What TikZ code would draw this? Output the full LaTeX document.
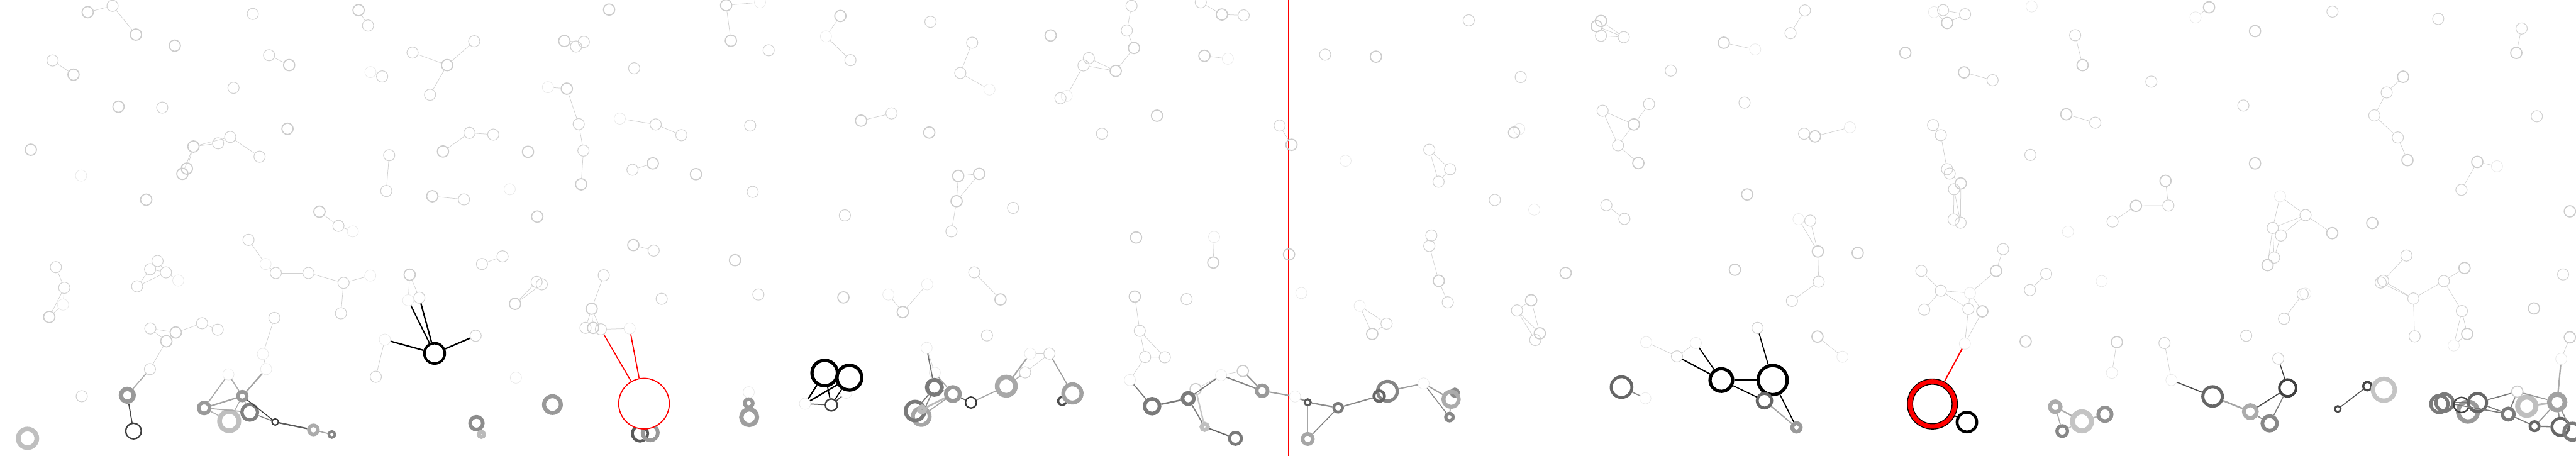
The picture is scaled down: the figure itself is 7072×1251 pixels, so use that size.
\documentclass[tikz,border=0pt]{standalone}
\usepackage{tikz}
\newdimen\pxu
\pxu=0.01cm

\begin{document}
\begin{tikzpicture}[x=0.01cm,y=-0.01cm,
  lt/.style={circle,inner sep=0pt,minimum size=0.31cm,draw=black!20,line width=0.03cm},
  lm/.style={circle,inner sep=0pt,minimum size=0.31cm,draw=black!18,line width=0.019cm},
  lf/.style={circle,inner sep=0pt,minimum size=0.31cm,draw=black!9,line width=0.013cm},
  le/.style={draw=black!18,line width=0.013cm},
  ring/.style n args={3}{circle,inner sep=0pt,draw=#1,line width=#2\pxu,minimum size=#3\pxu}]
  \path[use as bounding box,fill=white] (0,0) rectangle (7072,1251);

  % divider
  \coordinate (vt) at (3536,0);
  \coordinate (vb) at (3536,1251);
  \draw[red,line width=0.018cm] (vt) -- (vb);

  % pale particles
  \foreach \n/\x/\y in {a1/240.7/33.5, a3/373.2/95, a4/479.8/125.3, a7/201.8/205, a9/793.8/178.8, a11/325.3/292.9, a13/789.3/353.5, a14/84.6/411, a16/531.1/402.2, a20/513.1/462.8, a21/500.7/477.2, a22/401.4/548.2, a23/877/581,
    b1/984.4/27.9, b4/1227.4/178.8, b9/1672.2/26.3, b10/1549.3/112.5, b15/1556/243.4, b18/1595.5/505.9, b23/1216.1/415.8, b24/1449.5/416.6, b27/1186.8/538.7, b30/1474.9/594.5, b31/1738.7/672.7, b38/1124.7/754.1, b41/1414/834, b45/1624.3/847.5,
    c1/1993.5/14.4, c3/2006.5/111.7, c5/2307/43.9, c13/2363.9/331.2, c15/2551.1/363.9, c16/1792.2/448.5, c17/1910.6/478, c20/2630.6/482.8, c21/2626.1/552.2, c24/2017.8/714.2, c27/2315.4/816.4,
    d3/3113.2/131.7, d4/3063/194.7, d9/2884.3/97.4, d13/3354.5/39.9, d15/3306.6/153.2, d17/3176.3/317.6, d20/2688.1/477.2, d22/3118.8/652, d24/3330.8/720.6, d26/2746.7/822, d27/3115.4/814,
    e1/3545.6/397.4, e2/3538.8/698.3, e5/3777.3/155.6, e7/4383.4/71.8, e8/4395.2/57.5, e15/4156.7/363.9, e22/3949.8/770.9, e25/4298.2/749.3, e26/4203.5/824.3,
    f2/4732.3/117.3, f7/5230.7/145.2, f9/4485.4/341.5, f11/4497.8/447.7, f14/4982.7/374.3, f16/4796.6/533.9, f20/4990.6/690.3, f23/5100/694.3, f24/4762.8/740.5,
    g4/5345.7/63, g6/6064.6/20, g8/6190.8/85.4, g10/5717.3/178.8, g11/5392/198.7, g14/5672.7/313.6, g20/6190.8/448.5, g23/5382.9/503.5, g27/5945/496.4, g29/5863.9/565, g33/5479.9/743.7, g37/5442.1/854.7,
    h4/6908/145.2, h5/6597.3/210.7, h9/6609.2/439.7, h11/6800.9/444.5, h18/6402.8/640, h20/6225.2/727.8, h21/6512.7/612.1, h22/7055.1/580.1, h28/6765.9/735.8, h31/6956.5/846.7,
    m1/135.3/870, m3/482.6/912.7, m6/456.7/936.7, m19/1628.2/900, m22/2478.4/856.7, m36/3282.4/1068.3, m38/3412/1018.3, m40/3767.2/916.7, m41/4227.2/915, m44/4989.5/924, m53/5561.1/937.3, m54/5811.4/939.3, m62/6773.3/916.7, m64/7055.1/926, m66/6910.8/1075}
    \node[lt] (\n) at (\x,\y) {};
  \foreach \n/\x/\y in {a2/309/16, a5/694/38.3, a6/144.3/166, a8/738.6/151.6, a10/641/241, a12/445.4/295.3, a17/598.7/393.4, a18/632/375.9, a19/712.6/430.1, a24/682.2/658.4, a26/757.2/749.3, a27/846.8/749.3, a28/153.4/733.4, a29/176.5/790, a31/432.4/716.6, a32/412.1/739, a33/455.5/747.7, a35/376.6/786,
    b2/1010.3/70.2, b3/1132.6/144.4, b5/1301.8/113.3, b6/1180.6/260.1, b8/1049.2/209.9, b11/1602.8/115, b12/1581.4/127.7, b13/1741/187.5, b16/1588.7/340.7, b17/1601.7/413.4, b20/1736.4/466, b21/1288.8/364.7, b22/1354.2/369.5, b25/1068.4/426.1, b26/1060.5/524.3, b28/1273.6/547.4, b32/929.1/620, b34/1323.2/724.6, b35/1379.6/703.8, b36/943.2/776.5, b39/1151.2/817.2, b42/1473.2/774, b43/1487.3/780.4, b44/1657.5/755.7,
    c4/2110.2/138, c7/2334.6/165.2, c8/2554.5/59.9, c9/2636.3/200.3, c10/1800.1/341.5, c11/1870.6/371.1, c12/2059.5/344.7, c14/2447.4/311.2, c18/2066.3/526.7, c19/2319.4/591.3, c22/2612/635.2, c23/1794.5/687.9, c25/1816.5/820.3, c26/2082/808.4,
    d1/3106.4/16, d2/3093.5/83.8, d5/2989.2/159.6, d6/2974.5/179.6, d8/2911.3/269.7, d10/2668.9/117.3, d12/3296.4/6.4, d14/3414.2/42.3, d18/3025.2/367.1, d19/3512.9/344.7, d21/2781.1/570.6, d25/2674.6/747.7, d28/3257.5/821.1,
    e3/4032.1/55.9, e4/3638/150, e6/4174.8/211.5, e9/4395.2/98.2, e10/4399.7/304, e12/3923.9/411, e13/3980.8/464.4, e14/3949.3/498.8, e17/4103.7/549, e19/4409.9/563.4, e20/3929.5/646.4, e21/3923.9/675.1, e23/3974.6/829.9, e27/4164.6/852.3,
    f1/4457.8/102.1, f4/4955/28.7, f5/4915.6/91, f6/4586.9/193.9, f8/4527.1/285.7, f10/4442/399, f12/4789.3/281.7, f13/4952.8/367.1, f17/4459.5/600.9, f19/4969.7/605.7, f21/4992.8/773.3, f22/4919.5/826, f25/5274.7/743.7, f26/5282.6/849.9,
    g2/5334.4/27.9, g3/5394.8/39.1, g9/5697/96.6, g12/5470.3/220.2, g13/5906.1/224.2, g15/5752.2/336.8, g16/6158.7/289.7, g17/5306.8/343.1, g18/5328.2/371.1, g19/5574.1/425.3, g21/5345.2/464.4, g22/5352.5/476.4, g24/5364.3/519.5, g25/5363.2/602.5, g26/5382.4/611.3, g28/5952.9/564.2, g30/5799.6/608.1, g32/5499.1/683.9, g34/5328.2/798, g36/5403.8/848.3, g38/5617.5/751.7, g39/5572.9/796.4,
    h1/6403.4/31.9, h2/6693.7/51.9, h3/6922.6/78.2, h6/6552.2/253.8, h7/6518.4/316.8, h8/6582.7/377.5, h10/6964.4/319.2, h13/6757.4/521.1, h15/6329.5/590.5, h16/6239.3/625.6, h17/6261.9/646.4, h19/6243.3/707, h23/6606.3/701.4, h24/6542.6/770.9, h25/6535.9/775.7, h26/6625.5/819.5, h27/6709/771.7, h29/6758.6/853.9, h30/7036.5/753.3, h32/6321.6/807.6,
    m2/412.7/901.7, m4/554.8/887.3, m5/597.6/905, m7/411.6/1013.3, m8/224.4/1087.7, m9/753.2/872.7, m13/936/860, m15/1031.7/1034.3, m16/1305.8/921.7, m18/1607.4/900, m20/1649.6/904, m23/2709.5/920.7, m30/2881/970.7, m31/2814.4/1022.3, m32/3129/908.3, m33/3143.7/980, m34/3197.8/980.7, m39/3806.6/888.3, m42/4214.8/933.3, m43/4824.9/900, m48/4603.8/978.3, m56/5942.2/941.7, m58/6166.6/921.7, m59/6270.4/875, m60/6254.6/984.3, m61/6628.9/923.3}
    \node[lm] (\n) at (\x,\y) {};
  \foreach \n/\x/\y in {a15/222.7/482, a25/729/724.6, a30/173.1/836.3, a34/489.4/770,
    b7/1017/197.9, b14/1504.2/239.4, b19/1701.5/325.6, b29/1399.3/519.5, b33/968.6/635.2, b37/1016.5/756.5, b40/1120.8/824.3,
    c2/2086.5/6.4, c6/2267.5/99.8, c28/2438.9/808.4, c29/2545.5/780.4,
    d7/2928.3/263.3, d11/2716.3/245.8, d16/3370.8/161.2, d23/3333.1/650.4,
    e11/3693.9/441.3, e16/4170.8/354.3, e18/4212/575.4, e24/3572.6/804.4, e28/3732.8/839.5,
    f3/4818.6/135.7, f15/5078.5/349.5, f18/4937.6/601.7,
    g1/5309.6/33.5, g5/5577.4/17.6, g7/6027.4/47.9, g31/5677.2/636, g35/5408.3/804.4, g40/5769.7/771.7,
    h12/6855/456.5, h14/6259.6/538.7, h33/6329/806,
    m10/721.7/971.7, m11/730.7/1013.3, m12/627/1027.7, m14/1056.6/932.3, m17/1416.3/1036.7, m21/1728.6/901.7, m24/2543.8/955, m25/2566.3/1023.3, m26/2055.5/1076.7, m27/2210/1108.3, m28/2322.8/1078.3, m29/2828/970.7, m35/3101.9/1043.3, m37/3352.3/1030, m45/5058.3/979.3, m46/4519.3/939.3, m47/4655.7/941.7, m49/3555.2/1088.3, m50/3908.1/1052.7, m51/4517/1093.3, m52/5394.2/943.3, m55/5797.9/1023.3, m57/5961.4/1043.3, m63/6736.1/948.3, m65/7031.5/985}
    \node[lf] (\n) at (\x,\y) {};

  \foreach \p/\q in {a1/a2, a2/a3, a6/a7, a8/a9, a16/a17, a17/a18, a16/a18, a18/a19, a16/a20, a16/a21, a24/a25, a25/a26, a26/a27, a28/a29, a29/a30, a29/m1, a30/m1, a31/a32, a32/a33, a31/a33, a35/a33, a35/a32, a33/a34, a23/b32, a27/b36,
    b1/b2, b3/b4, b4/b5, b4/b6, b7/b8, b10/b12, b12/b11, b10/b11, b14/b15, b15/b16, b16/b17, b17/b18, b19/c10, b20/c16, b21/b22, b21/b23, b25/b26, b27/b28, b32/b33, b34/b35, b36/b37, b36/m13, b38/b39, b38/b40, b41/b42, b41/b43, b44/b45, b31/c23,
    c1/c2, c1/c3, c5/c6, c6/c7, c9/d10, c9/d11, c10/c11, c13/c14, c20/c21, c21/c22, c20/d20, c21/d20, c28/m22, m22/c29,
    d1/d2, d2/d3, d3/d4, d4/d5, d4/d6, d5/d6, d6/d7, d12/d13, d13/d14, d15/d16, d19/e1, d23/d24, d25/d26, d27/m32,
    e7/f1, e8/f1, e9/f1, e10/f9, e10/f10, e12/e13, e12/e14, e13/e14, e21/e22, e22/e23, e26/e27, e27/m41, e27/m42, e26/m41, e28/m39, e28/m40, m39/m40, e19/f17,
    f2/f3, f4/f5, f8/f9, f9/f10, f10/f11, f14/f15, f18/f20, f19/f20, f20/f21, f21/f22, f25/g34, f26/g34,
    g2/g3, g4/g3, g1/g4, g6/g7, g9/g10, g11/g12, g14/g15, g17/g18, g18/g21, g22/g23, g24/g25, g24/g26, g23/g26, g27/g28, g28/g29, g29/g30, g32/g33, g33/g35, g34/g35, g34/g36, g35/g36, g35/g37, g36/m52, g37/m52, g38/g39,
    h3/h4, h5/h6, h6/h7, h7/h8, h8/h9, h11/h12, h11/h13, h14/h15, h14/h16, h15/h16, h15/h17, h15/h18, h16/h19, h17/h19, h16/h20, h23/h24, h24/h26, h25/h26, h26/h27, h27/h28, h27/h29, h29/m62, h29/m63, m62/m63, h26/m61, h32/m59, m64/m65,
    m7/m6, m6/m2, m6/m3, m2/m3, m3/m4, m4/m5, m9/m10, m10/m11, m14/m15, b45/m18, b45/m19, b45/m20, m20/m21, m24/m25, m29/m30, m30/m31, m32/m33, m32/m34, m33/m34, m33/m35, m36/m37, m37/m38, m46/m48, m47/m48, m44/m45, m54/m55, m56/m57}
    \draw[le] (\p) -- (\q);

  % bottom clusters
  \foreach \n/\x/\y/\col/\lw/\dm in {A1/75.5/1203.3/black!25/13/51, A2/349.5/1085/black!40/12/35, A3/366.5/1183.3/black!75/4/43, A4/665.3/1087.3/black!40/10/24, A5/560.4/1120/black!40/10/30, A6/629.2/1156/black!25/13/53, A7/685.6/1131.7/black!50/9/43, A8/755.5/1158.3/black!78/3.5/17.5, A9/860.4/1180/black!33/10/25, A10/911.1/1192.7/black!48/7/17, A11/1193/970/black/7/56, A12/1516.6/1110.7/black!40/11/46, A13/1308/1161.7/black!45/10/35, A14/1321.6/1192.3/black!27/11/14, R1/1757/1190/black!65/8/42, R2/1785/1188/black!40/10/42,
    B1/2055.5/1106.7/black!40/10/22, B2/2056.7/1145/black!38/12/43, B3/2264.1/1024/black/9/70, B4/2331.8/1036.7/black/9/68, B6/2282.2/1111.7/black!75/4/33,
    C4/2529.1/1143.3/black!35/11/46, C3/2512.2/1128.3/black!52/10/52, C1/2565.2/1063.3/black!52/11/41, C2/2615.9/1081.7/black!40/11/38, C5/2531.4/1124/black!27/11/16, C6/2665.6/1105/black!80/4/30, C7/2762.5/1060/black!34/13/50, C9/2915.9/1100.7/black!70/6/22, C8/2944.1/1080/black!37/11/50, C10/3162.8/1115/black!52/10/41, C11/3262/1094/black!52/10/31, C12/3307.2/1171.7/black!25/11/17, C13/3391.7/1203.3/black!52/8/33, C14/3465/1072.7/black!40/10/30,
    D1/3590.1/1104.3/black!65/5.5/16.5, D2/3673.6/1119.3/black!52/8/24, D3/3590.1/1205/black!35/10/28, D4/3808.9/1074/black!48/9/54, D5/3786.3/1087.3/black!60/8/29, D8/3994/1078/black!45/10/18, D7/3983.7/1096/black!33/11/42, D9/3979.2/1145/black!47/9/20, D10/4451.6/1062.7/black!60/8/57, D11/4725.6/1043.3/black/9/62, D12/4866.6/1043.3/black/9/80, D13/4844/1100/black!60/8/40, D14/4932/1173.3/black!40/11/23, D16/5399.8/1158.7/black/8/54,
    E1/5642.3/1116.7/black!33/11/29, E2/5715.6/1156.7/black!23/14/52, E3/5778.7/1137.3/black!43/10/37, E4/5661.5/1183.3/black!47/9/29, E5/6074.2/1088.3/black!60/8.5/53.5, E6/6280.5/1065/black!75/7/46, E7/6177.9/1130/black!33/11/35, E8/6230.9/1162.3/black!47/10/40, E9/6418/1122.7/black!72/5/16, E10/6499.3/1060/black!72/6/23, E11/6544.4/1070/black!23/12/60,
    F1a/6697/1109/black!52/9/47, F1b/6711/1105/black!52/9/47, F3/6775.4/1130/black!40/12/54, F2/6757.4/1111.6/black!75/4/42, F4/6801.5/1105/black!60/8/50, F6/6886/1136.7/black!52/9/32, F7/6936.8/1115/black!25/14/50, F8/7020.2/1104/black!37/13/43, F9/6958.2/1170/black!60/8/25, F10/7029.2/1171.7/black!60/8/47, F11/7062/1185/black!52/9/46}
    \node[ring={\col}{\lw}{\dm}] (\n) at (\x,\y) {};

  % the two marked particles
  \node[ring={red}{3}{139},fill=white] (A15) at (1768,1108) {};
  \node[ring={black}{17}{123}] (D15) at (5305,1109) {};
  \draw[red,line width=0.12cm] (D15.center) circle[radius=0.615cm];

  \foreach \p/\q/\col/\lw in {A2/m7/black!33/3, A2/A3/black!72/3, m12/A5/black!33/3, m12/A4/black!33/3, m11/A4/black!36/4, A5/A4/black!36/4, A5/A7/black!33/3, A5/A6/black!30/3, A4/A6/black!33/2.5, A4/A7/black!33/2.5, A4/A8/black!75/2.5, A7/A8/black!50/2.5, A8/A9/black!65/4, A9/A10/black!35/3,
    A11/m14/black/4, A11/m16/black/4, A11/b39/black/4, A11/b40/black/3.5, A15/m20/red/3, A15/m21/red/3,
    B3/m27/black/4, B4/m27/black/4, B3/B6/black/3, B4/B6/black/3, m27/B6/black!65/3, B6/m28/black!70/3,
    m24/C1/black!55/3, m25/C2/black!35/3, C1/C2/black!38/3, C1/C3/black!55/3, C1/C4/black!45/3, C2/C5/black!27/5, C2/C4/black!35/3, C2/C6/black!60/3, C6/C7/black!35/3, C7/m29/black!35/4, C7/m31/black!30/3, m30/C8/black!38/3,
    m35/C10/black!52/3, C10/C11/black!52/4.5, C11/m37/black!52/3, C11/C12/black!52/3, m36/C12/black!22/4, C12/C13/black!60/3.5, m37/C14/black!48/3.5, m38/C14/black!40/3.5, C14/m49/black!38/3.5,
    m49/D1/black!45/4, D1/D2/black!45/4, D1/D3/black!35/3, D2/D3/black!50/2.5, D2/D5/black!47/3.5, D4/m50/black!38/3.5, m50/D7/black!38/3.5, m50/D9/black!48/2.5, D7/D9/black!40/3, D10/m51/black!45/3,
    D11/m48/black/3.5, D11/m47/black/3, D11/D12/black/5, D11/D13/black/3, D12/m43/black/3, D12/D14/black/3, D13/D14/black!35/3.5, D15/D16/black/3, D15/m52/red/3.5,
    E1/E2/black!33/4, E1/E4/black!33/3, E2/E3/black!30/4, E2/E4/black!25/3, m57/E5/black!70/3, E5/E7/black!35/4.5, E7/E6/black!70/3, E6/E8/black!50/3, E7/E8/black!45/3, m60/E6/black!78/2.5, E9/E10/black!68/2.5,
    F4/m66/black!52/3, m66/F8/black!40/3, m66/F6/black!52/3, F1b/F6/black!52/3, F4/F6/black!52/3, F6/F9/black!52/3, F9/F10/black!52/4, F9/F8/black!40/3, F7/F8/black!27/5, F8/F10/black!45/3, F8/F11/black!45/3, m65/F8/black!33/4, F1b/F4/black!52/3}
    \draw[draw=\col,line width=\lw\pxu] (\p) -- (\q);
\end{tikzpicture}
\end{document}
